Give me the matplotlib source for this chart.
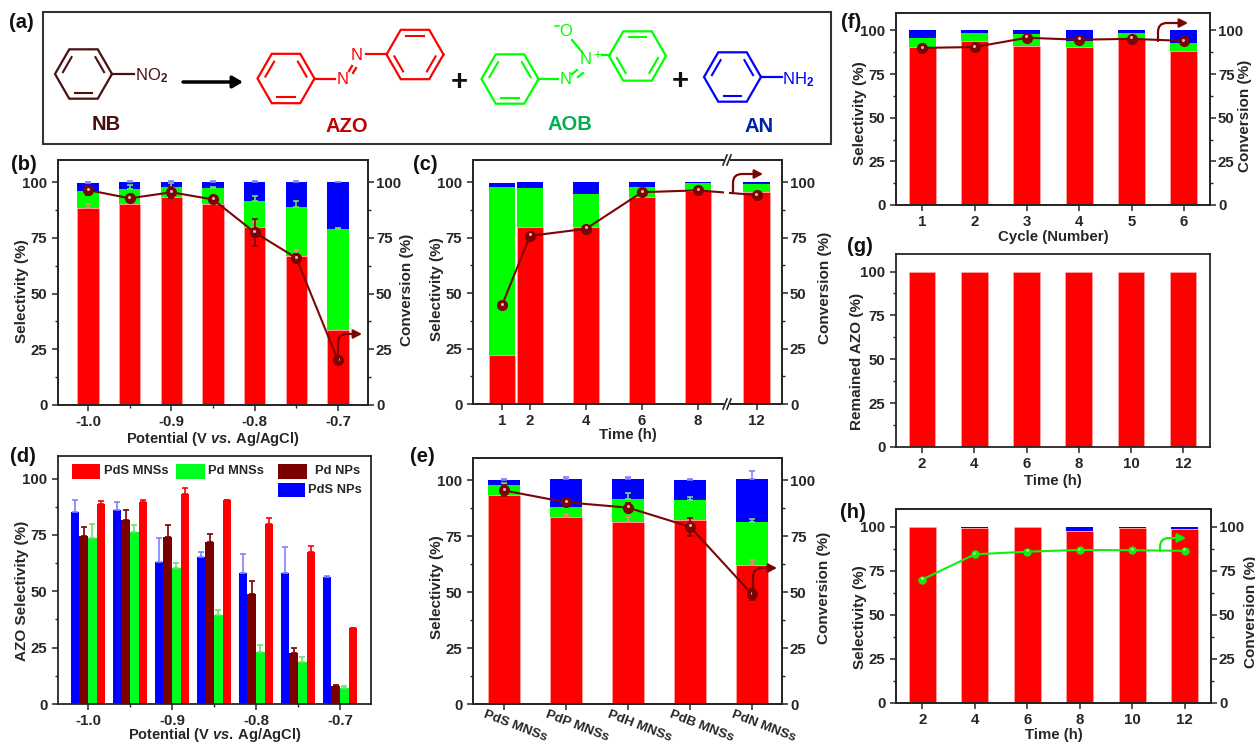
import numpy as np
import matplotlib
matplotlib.use('Agg')
from matplotlib import pyplot as plt
from matplotlib.patches import Rectangle, FancyArrowPatch
from matplotlib.transforms import ScaledTranslation

plt.rcParams['font.family'] = ['Liberation Sans', 'DejaVu Sans']
plt.rcParams['font.weight'] = 'bold'
plt.rcParams['axes.labelweight'] = 'bold'
plt.rcParams['mathtext.fontset'] = 'custom'
plt.rcParams['mathtext.rm'] = 'Liberation Sans'
plt.rcParams['mathtext.it'] = 'Liberation Sans:italic:bold'
plt.rcParams['mathtext.bf'] = 'Liberation Sans:bold'

RED = '#ff0000'
GREEN = '#00ff00'
BLUE = '#0000ff'
DARK = '#7a0505'
INK = '#262626'
W, H = 1255, 743

# panel b
pot_b = [-1.0, -0.95, -0.9, -0.85, -0.8, -0.75, -0.7]
red_b = [88.5, 90.3, 93.3, 90.3, 79.7, 67, 33.5]
green_b = [7.8, 6.7, 4.7, 7.2, 11.8, 22, 45.5]
blue_b = [3.4, 3.0, 2.0, 2.5, 8.7, 11, 21]
red_err_b = [1.9, 0.6, 0.6, 0.6, 2.3, 2.8, 0.2]
green_err_b = [0.6, 1.6, 1.5, 0.5, 2.4, 2.5, 0.3]
blue_err_b = [0.4, 0.5, 0.4, 0.4, 0.2, 0.4, 0.1]
conv_b = [96.5, 92.8, 95.5, 92.3, 77.5, 66, 20]
conv_err_b = [2, 1.5, 2.5, 1.5, 6, 2, 0.5]

# panel c
time_c = [1, 2, 4, 6, 8, 12]
time_labels_c = ['1', '2', '4', '6', '8', '12']
red_c = [22, 80, 80, 93.3, 96, 95.5]
green_c = [76, 17.5, 14.8, 4.7, 3.5, 3.5]
blue_c = [1.7, 2.5, 5.2, 2.0, 0.5, 1.0]
conv_c = [44.5, 75.8, 79, 95.5, 96.3, 94.2]

# panel d
pot_d = [-1.0, -0.95, -0.9, -0.85, -0.8, -0.75, -0.7]
pds_np = [85, 86, 63, 65, 58, 58, 56.5]
pds_np_err = [5.5, 3.5, 10.5, 2.3, 8.5, 11.5, 0.3]
pd_np = [74.5, 81.5, 74, 72, 49, 22.5, 8]
pd_np_err = [4, 4.5, 5.5, 3.5, 5.5, 2.5, 0.3]
pd_mns = [73.5, 76.5, 60.5, 39.5, 23, 18.5, 7]
pd_mns_err = [6.5, 2.8, 2, 2.2, 3, 2.5, 1]
pds_mns = [88.7, 89.5, 93.3, 90.5, 80, 67.3, 33.5]
pds_mns_err = [1.5, 1, 2.7, 0.2, 2.3, 3, 0.2]

# panel e
names_e = ['PdS MNSs', 'PdP MNSs', 'PdH MNSs', 'PdB MNSs', 'PdN MNSs']
red_e = [93.3, 83.7, 81.2, 82.3, 62.2]
green_e = [4.7, 4.4, 10.3, 8.7, 19]
blue_e = [2, 12.4, 9, 9.2, 19.3]
red_err_e = [1, 1.2, 2.2, 1, 2.4]
green_err_e = [1, 1, 3, 1.5, 1.5]
blue_err_e = [0.5, 0.8, 1, 0.4, 3.8]
conv_e = [95.5, 90.2, 87.8, 79.2, 49]
conv_err_e = [2.5, 1.5, 2, 4, 2.5]

# panel f
cycle_f = [1, 2, 3, 4, 5, 6]
red_f = [90.5, 94, 91, 90.5, 95, 88.5]
green_f = [5, 4.7, 6.8, 3.5, 3.3, 4.5]
blue_f = [4.5, 1.3, 2.2, 6, 1.7, 7]
conv_f = [90, 90.5, 95.8, 94.7, 95.2, 94]

# panel g
time_g = [2, 4, 6, 8, 10, 12]
remained_g = [100, 100, 100, 100, 100, 100]

# panel h
time_h = [2, 4, 6, 8, 10, 12]
red_h = [100, 99, 100, 97.8, 99.5, 98.8]
blue_h = [0, 1, 0, 2.2, 0.5, 1.2]
conv_h = [70, 84.3, 85.8, 86.8, 86.6, 86.3]


fig = plt.figure(figsize=(W / 100, H / 100), dpi=100, facecolor='white')


def style_y(ax, side):
    ax.set_ylim(0, 110)
    ax.set_yticks([0, 25, 50, 75, 100])
    ax.set_yticks([12.5, 37.5, 62.5, 87.5], minor=True)
    for s in ax.spines.values():
        s.set_linewidth(1.3)
        s.set_color(INK)
    pad = 3.5 if side == 'left' else 1.5
    ax.tick_params(which='major', length=4.2, width=1.1, labelsize=10.8, pad=pad, color=INK, labelcolor=INK)
    ax.tick_params(which='minor', length=2.4, width=1, color=INK)


# the label places come in picture pixels
def make_axes(x0, x1, top, bottom, ylabel, yl=(0, 0), yr=None, xlab=None, xlab_y=0, xfs=10.8):
    ax = fig.add_axes([x0 / W, 1 - bottom / H, (x1 - x0) / W, (bottom - top) / H])
    style_y(ax, 'left')
    ax.tick_params(axis='x', which='major', pad=3)
    ax.set_ylabel(ylabel, fontsize=11, color=INK, va='center')
    ax.yaxis.set_label_coords((yl[0] + 2.5 - x0) / (x1 - x0), (bottom - yl[1]) / (bottom - top))
    if xlab:
        ax.set_xlabel(xlab, fontsize=xfs, color=INK, va='center')
        ax.xaxis.set_label_coords(0.5, (bottom - xlab_y) / (bottom - top))
    if yr is None:
        return ax, None
    ax2 = ax.twinx()
    style_y(ax2, 'right')
    ax2.set_ylabel('Conversion (%)', fontsize=11, color=INK, va='center', rotation=90)
    ax2.yaxis.set_label_coords((yr[0] + 2.5 - x0) / (x1 - x0), (bottom - yr[1]) / (bottom - top))
    ax2.set_zorder(ax.get_zorder() + 1)
    return ax, ax2


def stack(ax, x, width, red, green, blue):
    red, green, blue = np.array(red), np.array(green), np.array(blue)
    ax.bar(x, red, width, color=RED, edgecolor='#ffb0b0', linewidth=0.4, zorder=2)
    ax.bar(x, green, width, bottom=red, color=GREEN, linewidth=0, zorder=2)
    ax.bar(x, blue, width, bottom=red + green, color=BLUE, linewidth=0, zorder=2)
    return red, green, blue


def caps(ax, x, top, err, color):
    ax.errorbar(x, top, yerr=[np.zeros(len(err)), err], fmt='none', ecolor=color,
                elinewidth=1.2, capsize=2.4, capthick=1.2, zorder=3)


def conv_line(ax, x, y, err=None, color=DARK, size=8, shine='#eebbbb'):
    if err is not None:
        ax.errorbar(x, y, yerr=err, fmt='none', ecolor=color, elinewidth=1.2,
                    capsize=2.4, capthick=1.2, zorder=4)
    ax.plot(x, y, '-', color=color, lw=1.5, zorder=5)
    ax.plot(x, y, 'o', color=color, ms=size, mew=0, zorder=6)
    shift = ScaledTranslation(-0.005, 0.014, fig.dpi_scale_trans)
    ax.plot(x, y, 'o', color=shine, ms=size * 0.27, mew=0, zorder=7, transform=ax.transData + shift)


# overlay in picture pixels for the scheme, labels and hand drawn arrows
ov = fig.add_axes([0, 0, 1, 1], zorder=20)
ov.set_xlim(0, W)
ov.set_ylim(H, 0)
ov.axis('off')
ov.patch.set_alpha(0)

POT_LABEL = 'Potential (V $\\mathit{vs.}\\,$Ag/AgCl)'

# (b)
ax, ax2 = make_axes(58, 368, 160, 405, 'Selectivity (%)', (20, 291), (404, 290), POT_LABEL, 438.5, 10.5)
ax.set_xlim(-1.036, -0.664)
ax.set_xticks([-1.0, -0.9, -0.8, -0.7])
ax.set_xticks(pot_b, minor=True)
ax.set_xticklabels(['-1.0', '-0.9', '-0.8', '-0.7'])
r, g, b = stack(ax, pot_b, 0.0255, red_b, green_b, blue_b)
caps(ax, pot_b, r, red_err_b, '#ff8080')
caps(ax, pot_b, r + g, green_err_b, '#70e070')
caps(ax, pot_b, r + g + b, blue_err_b, '#8080ff')
conv_line(ax2, pot_b, conv_b, conv_err_b)

# (c)
pos_c = [t if t <= 8 else 8 + (t - 8) * 0.525 for t in time_c]
ax, ax2 = make_axes(473, 782, 160, 404, 'Selectivity (%)', (434, 289), (822, 288), 'Time (h)', 434.5)
ax.set_xlim(-0.036, 11.0)
ax.set_xticks(pos_c)
ax.set_xticklabels(time_labels_c)
stack(ax, pos_c, 0.96, red_c, green_c, blue_c)
conv_line(ax2, pos_c, conv_c)

# (d)
ax, _ = make_axes(58, 371, 456, 704, 'AZO Selectivity (%)', (20, 591), None, POT_LABEL, 735, 10.5)
ax.set_xlim(-1.0357, -0.663)
ax.set_xticks([-1.0, -0.9, -0.8, -0.7])
ax.set_xticks(pot_d, minor=True)
ax.set_xticklabels(['-1.0', '-0.9', '-0.8', '-0.7'])
bw = 0.0103
x_d = np.array(pot_d)
groups = [(pds_np, pds_np_err, BLUE, '#8080ff', -1.5), (pd_np, pd_np_err, '#7a0000', '#7a0000', -0.5),
          (pd_mns, pd_mns_err, '#00ff20', '#70e070', 0.5), (pds_mns, pds_mns_err, RED, RED, 1.5)]
for vals, errs, col, ecol, off in groups:
    ax.bar(x_d + off * bw, vals, bw, color=col, linewidth=0, zorder=2)
    caps(ax, x_d + off * bw, vals, errs, ecol)

# (e)
ax, ax2 = make_axes(473, 782, 458, 704, 'Selectivity (%)', (434, 587), (821, 588))
x_e = np.arange(len(names_e))
ax.set_xlim(-0.5, 4.48)
ax.set_xticks(x_e)
ax.set_xticklabels(names_e, rotation=-21, ha='left', va='center', rotation_mode='anchor', fontsize=9.6)
ax.tick_params(axis='x', which='major', pad=3)
for lab in ax.get_xticklabels():
    lab.set_transform(lab.get_transform() + ScaledTranslation(-0.2, 0, fig.dpi_scale_trans))
r, g, b = stack(ax, x_e, 0.51, red_e, green_e, blue_e)
caps(ax, x_e, r, red_err_e, '#ff8080')
caps(ax, x_e, r + g, green_err_e, '#70e070')
caps(ax, x_e, r + g + b, blue_err_e, '#8080ff')
conv_line(ax2, x_e, conv_e, conv_err_e)

# (f)
ax, ax2 = make_axes(896, 1210, 13, 205, 'Selectivity (%)', (857, 113), (1243, 116), 'Cycle (Number)', 236.5)
ax.set_xlim(0.5, 6.5)
ax.set_xticks(cycle_f)
stack(ax, cycle_f, 0.51, red_f, green_f, blue_f)
conv_line(ax2, cycle_f, conv_f)

# (g)
ax, _ = make_axes(896, 1210, 254, 447, 'Remained AZO (%)', (854, 361), None, 'Time (h)', 481.5)
ax.set_xlim(1, 13.03)
ax.set_xticks(time_g)
ax.bar(time_g, remained_g, 1.02, color=RED, edgecolor='#ffb0b0', linewidth=0.4, zorder=2)

# (h)
ax, ax2 = make_axes(896, 1211, 509, 703, 'Selectivity (%)', (857, 617), (1248, 612), 'Time (h)', 735)
ax.set_xlim(1, 13)
ax.set_xticks(time_h)
ax.bar(time_h, red_h, 1.02, color=RED, edgecolor='#ffb0b0', linewidth=0.4, zorder=2)
ax.bar(time_h, blue_h, 1.02, bottom=red_h, color=BLUE, linewidth=0, zorder=2)
conv_line(ax2, time_h, conv_h, color='#10ee10', size=6, shine='#c8ffc8')

# panel letters
for s, x, y in [('(a)', 9, 22), ('(b)', 11, 165), ('(c)', 413, 165), ('(d)', 10, 457),
                ('(e)', 410, 457), ('(f)', 841, 22), ('(g)', 847, 247), ('(h)', 840, 512)]:
    ov.text(x, y, s, fontsize=14.5, va='center', ha='left', color='#111111')

# legend of (d)
for x0, x1, y0, y1, col, s, tx in [(72, 100, 464, 479, RED, 'PdS MNSs', 104),
                                   (176, 205, 464, 479, '#00ff20', 'Pd MNSs', 208),
                                   (278, 307, 464, 479, '#7a0000', 'Pd NPs', 315),
                                   (278, 305, 483, 497, BLUE, 'PdS NPs', 308)]:
    ov.add_patch(Rectangle((x0, y0), x1 - x0, y1 - y0, color=col, lw=0))
    ov.text(tx, (y0 + y1) / 2, s, fontsize=9.3, va='center', ha='left', color=INK)


def turn_arrow(x0, y0, x1, y1, color):
    ov.add_patch(FancyArrowPatch((x0, y0), (x1, y1), connectionstyle='angle,angleA=90,angleB=0,rad=9',
                                 arrowstyle='-|>,head_length=5,head_width=2.6', color=color, lw=1.6,
                                 shrinkA=0, shrinkB=0))


turn_arrow(338, 360, 362, 334, DARK)
turn_arrow(733, 193, 763, 174, DARK)
turn_arrow(753, 597, 777, 568, DARK)
turn_arrow(1158, 41, 1188, 23, DARK)
turn_arrow(1160, 551, 1186, 538, '#10ee10')

# axis breaks of (c)
for y in (160, 404):
    ov.add_patch(Rectangle((724, y - 2), 6, 4, color='white', lw=0))
    for dx in (-2, 2):
        ov.plot([725 + dx, 729 + dx], [y + 5, y - 5], color=INK, lw=1.2)
ov.add_patch(Rectangle((724, 189), 5, 8, color='white', lw=0))

# scheme (a)
ov.add_patch(Rectangle((43, 12), 788, 132, fill=False, ec='#333333', lw=1.5))


def ring(cx, cy, color, inner):
    r = 28.5
    a = np.radians(np.arange(0, 420, 60))
    ov.plot(cx + r * np.cos(a), cy + r * np.sin(a), color=color, lw=1.6, solid_joinstyle='miter')
    for i in inner:
        p = cx + 0.76 * r * np.cos(a[i:i + 2])
        q = cy + 0.76 * r * np.sin(a[i:i + 2])
        ov.plot(p + (np.mean(p) - p) * 0.2, q + (np.mean(q) - q) * 0.2, color=color, lw=1.5)


def bond(x0, y0, x1, y1, color, lw=1.6):
    ov.plot([x0, x1], [y0, y1], color=color, lw=lw)


def atom(x, y, s, color, ha='center'):
    ov.text(x, y, s, fontsize=12, color=color, ha=ha, va='center', fontweight='normal')


BROWN = '#4a1010'
# NB
ring(83.5, 74, BROWN, [1, 3, 5])
bond(112, 74, 134, 74, BROWN)
atom(135, 76, 'NO$_2$', BROWN, 'left')
ov.annotate('', xy=(243, 82), xytext=(183, 82),
            arrowprops=dict(arrowstyle='-|>,head_length=0.6,head_width=0.35', color='black', lw=2.5, shrinkA=0, shrinkB=0))
# AZO
ring(286, 78.5, RED, [1, 3, 5])
bond(315, 79, 335, 79, RED)
atom(343, 80, 'N', RED)
atom(357, 55, 'N', RED)
bond(349, 71, 352, 66, RED)
bond(353, 73, 356, 68, RED)
bond(366, 54, 387, 54, RED)
ring(415, 54.5, RED, [0, 2, 4])
ov.text(459, 82, '+', fontsize=21, color='#111111', ha='center', va='center')
# AOB
ring(510, 79, GREEN, [1, 3, 5])
bond(538, 79, 558, 79, GREEN)
atom(566, 80, 'N', GREEN)
atom(586, 60, 'N', GREEN)
ov.text(597, 55, '+', fontsize=10, color=GREEN, ha='center', va='center', fontweight='normal')
bond(572, 74, 577, 70, GREEN)
bond(578, 77, 583, 73, GREEN)
atom(566, 32, 'O', GREEN)
bond(555, 26, 559, 26, GREEN, 1.1)
bond(572, 40, 582, 52, GREEN)
bond(602, 55, 610, 55, GREEN)
ring(637.5, 56, GREEN, [0, 2, 4])
ov.text(680, 81, '+', fontsize=21, color='#111111', ha='center', va='center')
# AN
ring(732.5, 77, BLUE, [1, 3, 5])
bond(761, 77, 782, 77, BLUE)
atom(782, 80, 'NH$_2$', BLUE, 'left')
# names
ov.text(106, 125, 'NB', fontsize=14.5, color=BROWN, ha='center', va='center')
ov.text(347, 127, 'AZO', fontsize=14.5, color='#c00000', ha='center', va='center')
ov.text(570, 124, 'AOB', fontsize=14.5, color='#00b050', ha='center', va='center')
ov.text(759, 127, 'AN', fontsize=14.5, color='#00209f', ha='center', va='center')

fig.savefig('out.png', dpi=100)
